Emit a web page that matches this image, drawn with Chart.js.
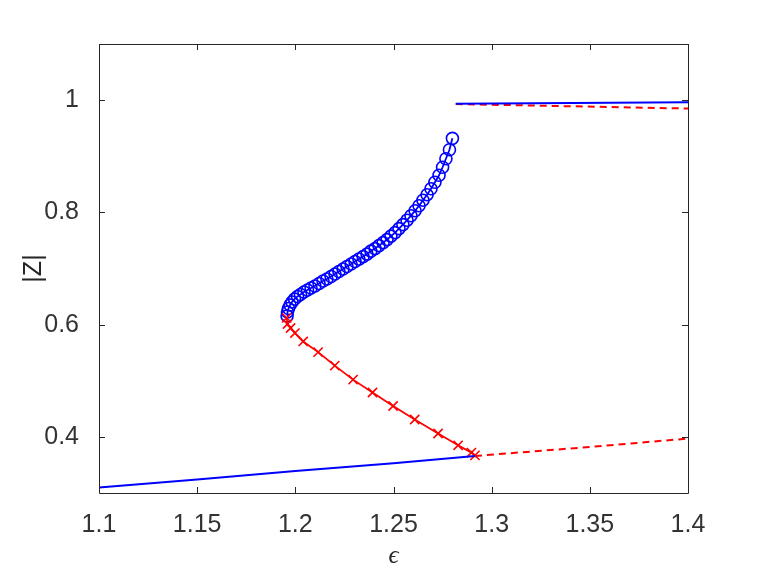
<!DOCTYPE html>
<html>
<head>
<meta charset="utf-8">
<script src="https://cdn.jsdelivr.net/npm/chart.js@4.4.1/dist/chart.umd.min.js"></script>
<style>
html,body{margin:0;padding:0;background:#fff;}
#wrap{width:763px;height:573px;position:relative;}
</style>
</head>
<body>
<div id="wrap"><canvas id="c" width="763" height="573"></canvas></div>
<script>
// ---- data ----
const xTicks = [1.1, 1.15, 1.2, 1.25, 1.3, 1.35, 1.4];
const yTicks = [0.4, 0.6, 0.8, 1.0];

// lower stable branch (blue solid)
const lowStableX = [1.1, 1.15, 1.2, 1.25, 1.2915];
const lowStableY = [0.310, 0.324, 0.339, 0.353, 0.366];
// lower unstable continuation (red dashed)
const lowUnstX = [1.2915, 1.35, 1.4];
const lowUnstY = [0.366, 0.382, 0.397];
// middle branch with x markers (red)
const midX = [1.1956, 1.1960, 1.1976, 1.1998, 1.2040, 1.2116, 1.2201, 1.2294, 1.2393, 1.2498, 1.2608, 1.2727, 1.2829, 1.2897, 1.2915];
const midY = [0.612, 0.601, 0.594, 0.585, 0.570, 0.551, 0.527, 0.502, 0.479, 0.455, 0.431, 0.406, 0.385, 0.372, 0.367];
// circle branch (blue)
const circX = [1.1958, 1.1960, 1.1965, 1.1973, 1.1983, 1.1996, 1.2011, 1.2026, 1.2044, 1.2062,
               1.2080, 1.2100, 1.2121, 1.2141, 1.2161, 1.2182, 1.2202, 1.2222, 1.2243, 1.2263,
               1.2284, 1.2304, 1.2324, 1.2345, 1.2365, 1.2385, 1.2406, 1.2426, 1.2447, 1.2467,
               1.2487, 1.2508, 1.2528, 1.2548, 1.2569, 1.2589, 1.2610, 1.2630, 1.2650, 1.2671,
               1.2691, 1.2711, 1.2732, 1.2750, 1.2767, 1.2785, 1.2800];
const circY = [0.6155, 0.6226, 0.6288, 0.6350, 0.6404, 0.6457, 0.6501, 0.6537, 0.6581, 0.6617,
               0.6652, 0.6688, 0.6732, 0.6777, 0.6812, 0.6857, 0.6901, 0.6946, 0.6990, 0.7035,
               0.7079, 0.7124, 0.7168, 0.7212, 0.7257, 0.7310, 0.7355, 0.7408, 0.7461, 0.7515,
               0.7577, 0.7639, 0.7710, 0.7781, 0.7861, 0.7941, 0.8030, 0.8119, 0.8217, 0.8315,
               0.8421, 0.8537, 0.8661, 0.8804, 0.8955, 0.9115, 0.9319];
// upper branch
const upStableX = [1.2817, 1.4];
const upStableY = [0.9936, 0.996];
const upUnstX = [1.2817, 1.4];
const upUnstY = [0.993, 0.985];

const pts = (xs, ys) => xs.map((x, i) => ({x: x, y: ys[i]}));
const BLUE = '#0000ff', RED = '#ff0000', AX = '#262626';
const FONT = "'Liberation Sans', Arial, Helvetica, sans-serif";

const boxPlugin = {
  id: 'boxTicks',
  afterDraw(chart) {
    const ctx = chart.ctx, a = chart.chartArea;
    const xs = chart.scales.x, ys = chart.scales.y;
    const L = 6;
    ctx.save();
    ctx.strokeStyle = AX;
    ctx.lineWidth = 1;
    ctx.beginPath();
    ctx.rect(Math.round(a.left) + 0.5, Math.round(a.top) + 0.5, Math.round(a.right - a.left), Math.round(a.bottom - a.top));
    xTicks.forEach(v => {
      const p = Math.round(xs.getPixelForValue(v)) + 0.5;
      ctx.moveTo(p, a.bottom); ctx.lineTo(p, a.bottom - L);
      ctx.moveTo(p, a.top); ctx.lineTo(p, a.top + L);
    });
    yTicks.forEach(v => {
      const p = Math.round(ys.getPixelForValue(v)) + 0.5;
      ctx.moveTo(a.left, p); ctx.lineTo(a.left + L, p);
      ctx.moveTo(a.right, p); ctx.lineTo(a.right - L, p);
    });
    ctx.stroke();
    ctx.restore();
  }
};

new Chart(document.getElementById('c'), {
  type: 'scatter',
  data: {
    datasets: [
      {data: pts(lowStableX, lowStableY), showLine: true, borderColor: BLUE, borderWidth: 2, pointRadius: 0},
      {data: pts(lowUnstX, lowUnstY), showLine: true, borderColor: RED, borderWidth: 2, borderDash: [7, 5], pointRadius: 0},
      {data: pts(upStableX, upStableY), showLine: true, borderColor: BLUE, borderWidth: 2, pointRadius: 0},
      {data: pts(upUnstX, upUnstY), showLine: true, borderColor: RED, borderWidth: 2, borderDash: [7, 5], pointRadius: 0},
      {data: pts(midX, midY), showLine: true, borderColor: RED, borderWidth: 1.8, pointStyle: 'crossRot', pointRadius: 6.5,
       pointBorderColor: RED, pointBorderWidth: 1.6, pointBackgroundColor: 'rgba(0,0,0,0)'},
      {data: pts(circX, circY), showLine: true, borderColor: BLUE, borderWidth: 1.8, pointStyle: 'circle', pointRadius: 6,
       pointBorderColor: BLUE, pointBorderWidth: 1.6, pointBackgroundColor: 'rgba(0,0,0,0)'}
    ]
  },
  options: {
    responsive: false,
    animation: false,
    devicePixelRatio: 1,
    layout: {padding: {left: 0, right: 75, top: 44, bottom: 0}},
    plugins: {legend: {display: false}, tooltip: {enabled: false}},
    elements: {line: {tension: 0}},
    scales: {
      x: {
        type: 'linear', min: 1.1, max: 1.4,
        afterBuildTicks: s => { s.ticks = xTicks.map(v => ({value: v})); },
        afterFit: s => { s.height = 80; },
        grid: {display: false}, border: {display: false},
        ticks: {color: '#333333', font: {family: FONT, size: 25}, padding: 9, maxRotation: 0,
                callback: v => String(Number(v.toFixed(2)))},
        title: {display: true, text: 'ϵ', color: AX,
                font: {family: "'Liberation Serif', 'DejaVu Serif', serif", size: 25, style: 'italic'},
                padding: {top: 0, bottom: 2}}
      },
      y: {
        type: 'linear', min: 0.3, max: 1.1,
        afterBuildTicks: s => { s.ticks = yTicks.map(v => ({value: v})); },
        afterFit: s => { s.width = 99; },
        grid: {display: false}, border: {display: false},
        ticks: {color: '#333333', font: {family: FONT, size: 25}, padding: 12,
                callback: v => String(Number(v.toFixed(2)))},
        title: {display: true, text: '|Z|', color: AX, font: {family: FONT, size: 25},
                padding: {top: 19, bottom: 0}}
      }
    }
  },
  plugins: [boxPlugin]
});
</script>
</body>
</html>
